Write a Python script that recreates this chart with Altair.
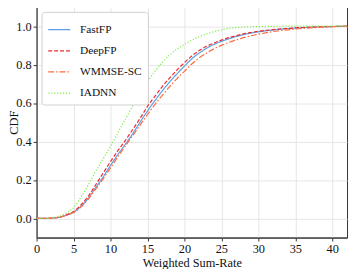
import altair as alt
import pandas as pd

series = ["FastFP", "DeepFP", "WMMSE-SC", "IADNN"]
colors = ["#5b9fe6", "#ee2a2a", "#ff6a3d", "#7ded4a"]
dashes = [[1, 0], [4, 2], [6, 2, 1.5, 2], [1.2, 1.8]]

x_fast = [0, 1, 2, 3, 4, 5, 6, 7, 8, 9, 10, 11, 12, 13, 14, 15, 16, 17, 18, 19, 20, 21, 22, 23, 24, 25, 26, 27, 28, 29, 30, 32, 34, 36, 38, 40, 42]
fastfp = [0, 0, 0.001, 0.005, 0.016, 0.032, 0.062, 0.105, 0.16, 0.215, 0.275, 0.332, 0.385, 0.44, 0.5, 0.558, 0.612, 0.663, 0.71, 0.752, 0.792, 0.83, 0.86, 0.885, 0.905, 0.921, 0.934, 0.946, 0.956, 0.964, 0.97, 0.98, 0.987, 0.992, 0.996, 0.998, 1.0]
deepfp = [0, 0, 0.001, 0.006, 0.018, 0.035, 0.07, 0.115, 0.175, 0.235, 0.295, 0.352, 0.405, 0.462, 0.52, 0.582, 0.635, 0.685, 0.73, 0.772, 0.81, 0.845, 0.873, 0.895, 0.912, 0.927, 0.94, 0.95, 0.96, 0.967, 0.973, 0.982, 0.988, 0.993, 0.996, 0.998, 1.0]
wmmse = [0, 0, 0.001, 0.005, 0.015, 0.03, 0.058, 0.1, 0.152, 0.205, 0.262, 0.32, 0.375, 0.43, 0.485, 0.54, 0.592, 0.64, 0.685, 0.727, 0.765, 0.803, 0.835, 0.86, 0.882, 0.9, 0.915, 0.928, 0.94, 0.95, 0.958, 0.972, 0.981, 0.988, 0.993, 0.997, 0.999]
iadnn = [0, 0, 0.002, 0.01, 0.027, 0.055, 0.11, 0.175, 0.245, 0.31, 0.375, 0.445, 0.515, 0.585, 0.65, 0.71, 0.765, 0.81, 0.85, 0.88, 0.905, 0.927, 0.945, 0.96, 0.972, 0.981, 0.988, 0.992, 0.995, 0.997, 0.998, 0.999, 1.0, 1.0, 1.0, 1.0, 1.0]

x_ticks = [0, 5, 10, 15, 20, 25, 30, 35, 40]
y_ticks = [0.0, 0.2, 0.4, 0.6, 0.8, 1.0]

rows = []
for name, vals in zip(series, [fastfp, deepfp, wmmse, iadnn]):
    for xv, yv in zip(x_fast, vals):
        rows.append({"rate": xv, "cdf": yv, "method": name})
df = pd.DataFrame(rows)

font = "Times New Roman"

chart = alt.Chart(df).mark_line(strokeWidth=1.2, interpolate="monotone", clip=True).encode(
    x=alt.X("rate:Q", title="Weighted Sum-Rate",
            scale=alt.Scale(domain=[0, 42], nice=False, zero=False),
            axis=alt.Axis(values=x_ticks, format="d", labelFlush=False)),
    y=alt.Y("cdf:Q", title="CDF",
            scale=alt.Scale(domain=[-0.1, 1.1], nice=False, zero=False),
            axis=alt.Axis(values=y_ticks, format=".1f", titleX=-16, titleAnchor="middle")),
    color=alt.Color("method:N", sort=series,
                    scale=alt.Scale(domain=series, range=colors),
                    legend=alt.Legend(title=None, orient="top-left")),
    strokeDash=alt.StrokeDash("method:N", sort=series,
                              scale=alt.Scale(domain=series, range=dashes),
                              legend=alt.Legend(title=None, orient="top-left")),
).properties(
    width=315, height=234,
    autosize=alt.AutoSizeParams(type="none"),
    padding={"left": 29, "top": -3, "right": 2, "bottom": 30},
).configure_view(
    stroke="#333333", strokeWidth=1
).configure_axis(
    labelFont=font, titleFont=font, labelFontSize=12.5, titleFontSize=12.5,
    labelColor="#111111", titleColor="#111111", titleFontWeight="normal",
    gridColor="#e6e6e6", gridWidth=1, domainColor="#333333",
    tickColor="#333333", tickSize=3.5, labelPadding=2,
).configure_axisX(titlePadding=1).configure_axisY(titlePadding=4).configure_legend(
    labelFont=font, labelFontSize=11.5, labelColor="#111111",
    symbolType="stroke", symbolSize=500, symbolStrokeWidth=1.3,
    fillColor="white", strokeColor="#d0d0d0", cornerRadius=3,
    padding=6, rowPadding=3.5, offset=5, labelOffset=9,
)

chart.save("out.html", embed_options={"renderer": "svg", "actions": False})
